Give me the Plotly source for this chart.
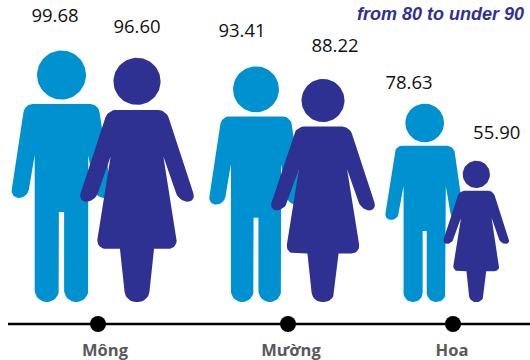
import math
import plotly.graph_objects as go

# ---- data ----
groups = ["Mông", "Mường", "Hoa"]
male_values = [99.68, 93.41, 78.63]
female_values = [96.60, 88.22, 55.90]
title_fragment = "from 80 to under 90"

# ---- layout ----
W, H = 530, 360
BASE_PX = 302            # pixel row of value 0
S = 2.523                # pixels per value unit
MALE_COLOR = "#0092d0"
FEMALE_COLOR = "#2e3192"
male_x = [61.5, 256, 424.7]
female_x = [137, 323, 476.3]
tick_x = [98, 288, 453]
group_label_x = [105, 291, 452]
male_label_x = [55, 242, 409]
female_label_x = [137, 335, 496.7]
male_label_gap = [33.5, 34, 19]
female_label_gap = [30, 32.5, 27]


def to_val(px):
    return (BASE_PX - px) / S


def rounded(points, n=8):
    out = []
    m = len(points)
    for i, (x, y, r) in enumerate(points):
        if r == 0:
            out.append((x, y))
            continue
        px, py, _ = points[i - 1]
        nx, ny, _ = points[(i + 1) % m]
        l1 = math.hypot(px - x, py - y)
        l2 = math.hypot(nx - x, ny - y)
        d1, d2 = min(r, l1 / 2), min(r, l2 / 2)
        a = (x + (px - x) / l1 * d1, y + (py - y) / l1 * d1)
        b = (x + (nx - x) / l2 * d2, y + (ny - y) / l2 * d2)
        c1 = (a[0] + (x - a[0]) * 0.55, a[1] + (y - a[1]) * 0.55)
        c2 = (b[0] + (x - b[0]) * 0.55, b[1] + (y - b[1]) * 0.55)
        for k in range(n + 1):
            t = k / n
            q = 1 - t
            out.append((
                q**3 * a[0] + 3 * q * q * t * c1[0] + 3 * q * t * t * c2[0] + t**3 * b[0],
                q**3 * a[1] + 3 * q * q * t * c1[1] + 3 * q * t * t * c2[1] + t**3 * b[1],
            ))
    return out


def mirror(half):
    """half: outline of the right side (dx, y, r) from top to centre."""
    return half + [(-dx, y, r) for dx, y, r in reversed(half)]


# Glyph outlines: dx from figure centre, pixel row in a reference drawing
MALE_H = 251.5
MALE_HEAD = (227, 24.5)
male_half = [
    (36.8, 104, 8), (51, 198, 8.5), (34, 198, 8.5), (26.8, 155, 0),
    (26.8, 302, 12), (2.6, 302, 12), (2.6, 212, 0),
]
FEMALE_H = 243
FEMALE_HEAD = (220, 23.5)
female_half = [
    (29, 110.5, 8), (59, 202, 9), (42, 202, 9), (26.3, 157, 0),
    (41, 249, 10), (17, 249, 0), (11.3, 302, 10),
]


def glyph(cx, value, half, h_ref, head):
    k = value * S / h_ref
    xs, ys = [], []
    for dx, py in rounded(mirror(half)):
        xs.append(cx + dx * k)
        ys.append((BASE_PX - py) / h_ref * value)
    xs.append(None)
    ys.append(None)
    hy, hr = head
    for i in range(73):
        a = 2 * math.pi * i / 72
        xs.append(cx + hr * k * math.cos(a))
        ys.append((hy + hr * math.sin(a)) / h_ref * value)
    return xs, ys


fig = go.Figure()

for i in range(len(groups)):
    x, y = glyph(male_x[i], male_values[i], male_half, MALE_H, MALE_HEAD)
    fig.add_trace(go.Scatter(x=x, y=y, mode="lines", fill="toself", fillcolor=MALE_COLOR,
                             line=dict(width=0, color=MALE_COLOR), hoverinfo="skip"))
    x, y = glyph(female_x[i], female_values[i], female_half, FEMALE_H, FEMALE_HEAD)
    fig.add_trace(go.Scatter(x=x, y=y, mode="lines", fill="toself", fillcolor=FEMALE_COLOR,
                             line=dict(width=0, color=FEMALE_COLOR), hoverinfo="skip"))

# value labels
val_x = male_label_x + female_label_x
vals = male_values + female_values
gaps = male_label_gap + female_label_gap
val_y = [v + g / S for v, g in zip(vals, gaps)]
fig.add_trace(go.Scatter(x=val_x, y=val_y, mode="text", text=[f"{v:.2f}" for v in vals],
                         textposition="middle center",
                         textfont=dict(family="Open Sans", size=18.5, color="#111111"),
                         hoverinfo="skip"))

# baseline axis and dots
axis_y = to_val(324)
fig.add_trace(go.Scatter(x=[8, 530], y=[axis_y, axis_y], mode="lines",
                         line=dict(color="#000000", width=2.4), hoverinfo="skip"))
fig.add_trace(go.Scatter(x=tick_x, y=[axis_y] * 3, mode="markers",
                         marker=dict(color="#000000", size=16, line=dict(width=0)), hoverinfo="skip"))

# group labels
fig.add_trace(go.Scatter(x=group_label_x, y=[to_val(351.5)] * 3, mode="text",
                         text=[f"<b>{g}</b>" for g in groups], textposition="middle center",
                         textfont=dict(family="Open Sans", size=16.5, color="#58595b"),
                         hoverinfo="skip"))

fig.add_annotation(x=355, y=to_val(14), xref="x", yref="y", xanchor="left", yanchor="middle",
                   text=f"<b><i>{title_fragment}</i></b>", showarrow=False,
                   font=dict(family="Liberation Sans", size=18, color=FEMALE_COLOR))

fig.update_layout(
    width=W, height=H, margin=dict(l=0, r=0, t=0, b=0),
    paper_bgcolor="#ffffff", plot_bgcolor="#ffffff", showlegend=False,
    xaxis=dict(range=[0, W], visible=False, fixedrange=True),
    yaxis=dict(range=[to_val(H), to_val(0)], visible=False, fixedrange=True),
)
fig.write_html("out.html", config={"displayModeBar": False},
               post_script="document.body.style.margin='0';document.body.style.overflow='hidden';")
